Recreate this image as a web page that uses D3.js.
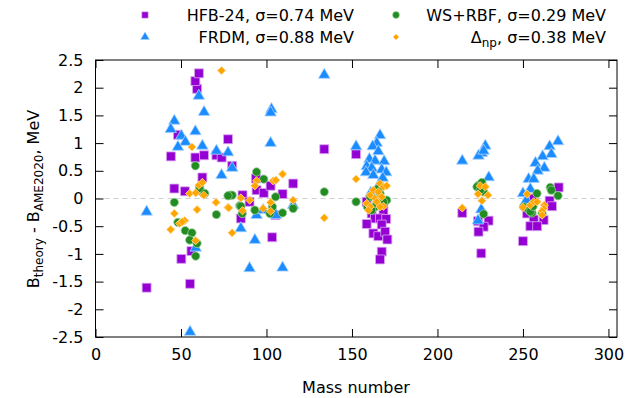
<!DOCTYPE html>
<html><head><meta charset="utf-8">
<script src="https://cdn.jsdelivr.net/npm/d3@7"></script>
<style>body{margin:0;background:#fff}svg{display:block}text{font-family:"DejaVu Sans",sans-serif}</style>
</head><body><svg id="c" width="638" height="398"></svg>
<script>
const xTicks = [0,50,100,150,200,250,300];
const yTicks = [-2.5,-2,-1.5,-1,-0.5,0,0.5,1,1.5,2,2.5];
const yTickLabels = ["-2.5","-2","-1.5","-1","-0.5","0","0.5","1","1.5","2","2.5"];
const seriesNames = ["HFB-24, σ=0.74 MeV","FRDM, σ=0.88 MeV","WS+RBF, σ=0.29 MeV","Δnp, σ=0.38 MeV"];

const hfb = [[29.9,-1.61],[44.1,0.76],[46.1,0.18],[48.2,1.15],[52.3,0.13],[50.2,-1.09],[55.3,-1.54],[56.1,-0.95],
[58.4,0.74],[59.4,1.98],[58.4,2.12],[60.5,2.26],[62.5,0.38],[63.5,0.78],[70.7,0.78],[73.8,0.74],[77.5,1.07],[79.9,0.59],
[86.0,0.06],[85.0,-0.36],[90.1,-0.06],[93.8,0.36],[94.2,0.15],[98.4,0.10],[102.4,0.23],[105.3,-0.30],[103.3,-0.70],
[109.4,0.08],[115.6,0.27],[133.8,0.89],
[152.4,0.80],[158.6,-0.06],[161.5,-0.27],[168.4,-0.24],[163.5,-0.36],[166.4,-0.36],[170.0,-0.37],[158.6,-0.46],
[167.4,-0.47],[162.5,-0.63],[165.4,-0.68],[169.4,-0.60],[170.7,-0.74],[167.4,-0.96],[166.4,-1.10],[168.4,-0.09],
[214.5,-0.26],[223.7,-0.41],[229.9,-0.40],[227.0,-0.51],[224.0,-0.60],[225.6,-0.99],
[250.0,-0.77],[270.9,0.20],[265.6,-0.04],[267.0,-0.14],[252.4,-0.27],[256.3,-0.38],[262.1,-0.39],[254.3,-0.50],[258.3,-0.50],[256.3,0.00]];

const frdm = [[60.4,1.85],[63.5,1.56],[46.1,1.40],[44.0,1.25],[50.2,1.13],[58.4,1.21],[52.6,1.02],[48.2,0.93],[62.5,0.95],
[70.7,0.86],[77.5,0.83],[73.7,0.42],[79.9,0.55],[29.9,-0.24],[58.6,-0.89],[55.3,-2.41],
[133.8,2.23],[102.9,1.61],[102.4,1.55],[102.4,1.00],[94.2,-0.30],[98.0,-0.21],[105.5,-0.30],[115.6,-0.12],[85.0,-0.54],
[93.2,-0.75],[90.1,-1.26],[109.4,-1.25],
[152.4,0.94],[166.4,1.14],[164.5,1.00],[162.1,0.94],[165.4,0.85],[160.2,0.71],[163.5,0.68],[168.8,0.67],[158.6,0.58],
[161.6,0.55],[167.4,0.52],[170.0,0.47],[158.2,0.47],[162.5,0.42],[168.0,0.37],[165.0,0.20],[161.0,0.10],
[214.5,0.68],[228.0,0.95],[226.0,0.82],[224.0,0.77],[227.0,0.86],[230.0,0.38],[225.6,-0.20],[223.7,-0.40],
[270.5,1.03],[265.6,0.94],[266.6,0.80],[261.5,0.76],[257.3,0.64],[262.5,0.55],[258.6,0.50],[253.3,0.35],[256.3,0.35],
[250.0,0.09],[254.3,0.17],[252.0,-0.03]];

const ws = [[58.4,0.59],[60.9,0.21],[62.9,0.10],[78.5,0.06],[79.9,0.06],[46.1,-0.07],[60.9,0.18],[63.9,0.09],[48.2,-0.43],
[52.5,-0.58],[56.4,-0.62],[55.1,-0.75],[59.4,-0.81],[58.6,-1.04],[70.7,-0.29],[77.5,0.05],[84.4,-0.13],
[94.2,0.48],[98.4,0.35],[85.0,-0.14],[85.8,-0.27],[93.2,-0.21],[105.3,0.03],[103.5,-0.15],[102.0,-0.27],[109.4,-0.26],
[115.6,-0.18],[133.8,0.12],
[152.4,-0.06],[160.6,0.03],[163.5,-0.15],[166.4,0.09],[170.3,-0.03],[165.4,0.18],[159.0,-0.15],[168.4,-0.06],[161.5,-0.21],[164.5,-0.09],
[224.0,0.24],[226.0,0.29],[223.1,0.21],[227.0,0.12],[225.0,0.15],[227.0,-0.28],
[258.2,0.09],[266.0,0.20],[266.6,0.15],[270.5,0.05],[250.4,-0.15],[253.3,-0.21],[255.3,-0.26],[261.2,-0.27],[254.3,-0.24],[255.9,-0.14]];

const dnp = [[73.7,2.31],[56.4,0.93],[60.5,0.24],[62.5,0.29],[55.1,0.09],[58.6,0.10],[63.3,0.06],[70.5,-0.07],[77.5,-0.16],
[46.1,-0.27],[59.4,-0.20],[49.2,-0.45],[52.2,-0.40],[50.7,-0.42],[44.0,-0.56],[58.6,-0.76],[79.9,-0.62],
[109.4,0.44],[103.9,0.32],[105.5,0.33],[94.2,0.32],[93.2,0.23],[85.0,0.01],[90.2,-0.03],[77.9,-0.17],[86.0,-0.22],
[98.0,-0.18],[102.4,-0.07],[102.4,-0.23],[115.6,-0.03],[133.8,-0.35],
[152.4,0.35],[166.4,0.27],[168.4,0.21],[170.3,0.23],[162.5,0.15],[165.4,0.12],[160.6,0.06],[167.4,0.03],[163.5,0.00],
[158.6,-0.09],[164.5,-0.06],[168.4,-0.14],[160.6,-0.15],[159.6,-0.21],[166.4,-0.15],
[214.5,-0.17],[225.0,0.23],[228.0,0.21],[223.7,0.08],[229.5,0.06],[226.0,-0.04],
[252.4,0.08],[250.0,-0.16],[254.3,-0.12],[256.3,-0.06],[258.3,-0.06],[262.5,-0.12],[262.1,-0.18],[261.2,-0.23],[261.2,-0.30]];

const svg = d3.select("#c");
const L = 95.5, R = 617, T = 60, B = 337;
const x = d3.scaleLinear().domain([0,305]).range([L,R]);
const y = d3.scaleLinear().domain([-2.5,2.5]).range([B,T]);

// zero line
svg.append("line").attr("x1",L).attr("x2",R).attr("y1",y(0)).attr("y2",y(0))
  .attr("stroke","#d0d0d0").attr("stroke-width",1).attr("stroke-dasharray","5,4");

// axes
const tl = 8;
const ax = svg.append("g");
ax.append("g").attr("transform",`translate(0,${B})`)
  .call(d3.axisBottom(x).tickValues(xTicks).tickSize(-tl).tickPadding(12).tickFormat(d3.format("d")));
ax.append("g").attr("transform",`translate(0,${T})`)
  .call(d3.axisTop(x).tickValues(xTicks).tickSize(-tl).tickFormat(""));
ax.append("g").attr("transform",`translate(${L},0)`)
  .call(d3.axisLeft(y).tickValues(yTicks).tickSize(-tl).tickPadding(12).tickFormat((d,i)=>yTickLabels[i]));
ax.append("g").attr("transform",`translate(${R},0)`)
  .call(d3.axisRight(y).tickValues(yTicks).tickSize(-tl).tickFormat(""));
ax.selectAll(".domain").remove();
ax.selectAll(".tick line").attr("stroke","#000");
ax.selectAll(".tick text").attr("font-size",16).attr("fill","#000");
svg.append("rect").attr("x",L).attr("y",T).attr("width",R-L).attr("height",B-T)
  .attr("fill","none").attr("stroke","#000").attr("stroke-width",1);

const styles = [
  {data:hfb, type:d3.symbolSquare, size:80, rot:0, fill:"#9400d3", stroke:"#d9a6f0"},
  {data:frdm, type:d3.symbolTriangle, size:58, rot:0, fill:"#1a8cff", stroke:"#a8d2ff"},
  {data:ws, type:d3.symbolCircle, size:55, rot:0, fill:"#228b22", stroke:"#9cd09c"},
  {data:dnp, type:d3.symbolSquare, size:34, rot:45, fill:"#ffa500", stroke:"#ffd890"}
];
styles.forEach(s=>{
  const sym = d3.symbol().type(s.type).size(s.size);
  svg.append("g").selectAll("path").data(s.data).join("path")
    .attr("d",sym).attr("transform",d=>`translate(${x(d[0])},${y(d[1])}) rotate(${s.rot})`)
    .attr("fill",s.fill).attr("stroke",s.stroke).attr("stroke-width",0.8);
});

// legend
const leg = [
  {i:0, sx:145, tx:354, ty:15},
  {i:1, sx:145, tx:354, ty:37},
  {i:2, sx:396, tx:606, ty:15},
  {i:3, sx:396, tx:606, ty:37}
];
const legSize = [40,34,36,18];
leg.forEach(l=>{
  const s = styles[l.i];
  svg.append("path").attr("d",d3.symbol().type(s.type).size(legSize[l.i])())
    .attr("transform",`translate(${l.sx},${l.ty}) rotate(${s.rot})`).attr("fill",s.fill).attr("stroke",s.stroke).attr("stroke-width",0.6);
  const t = svg.append("text").attr("x",l.tx).attr("y",l.ty+6).attr("text-anchor","end").attr("font-size",16);
  if (l.i===3) {
    t.append("tspan").text("Δ");
    t.append("tspan").attr("font-size",12).attr("dy",4).text("np");
    t.append("tspan").attr("dy",-4).text(", σ=0.38 MeV");
  } else t.text(seriesNames[l.i]);
});

// axis labels
svg.append("text").attr("x",356).attr("y",393).attr("text-anchor","middle").attr("font-size",16).text("Mass number");
const yl = svg.append("text").attr("transform","translate(39,199) rotate(-90)").attr("text-anchor","middle").attr("font-size",16);
yl.append("tspan").text("B");
yl.append("tspan").attr("font-size",12).attr("dy",4).text("theory");
yl.append("tspan").attr("dy",-4).text(" - B");
yl.append("tspan").attr("font-size",12).attr("dy",4).text("AME2020");
yl.append("tspan").attr("dy",-4).text(", MeV");
</script></body></html>
